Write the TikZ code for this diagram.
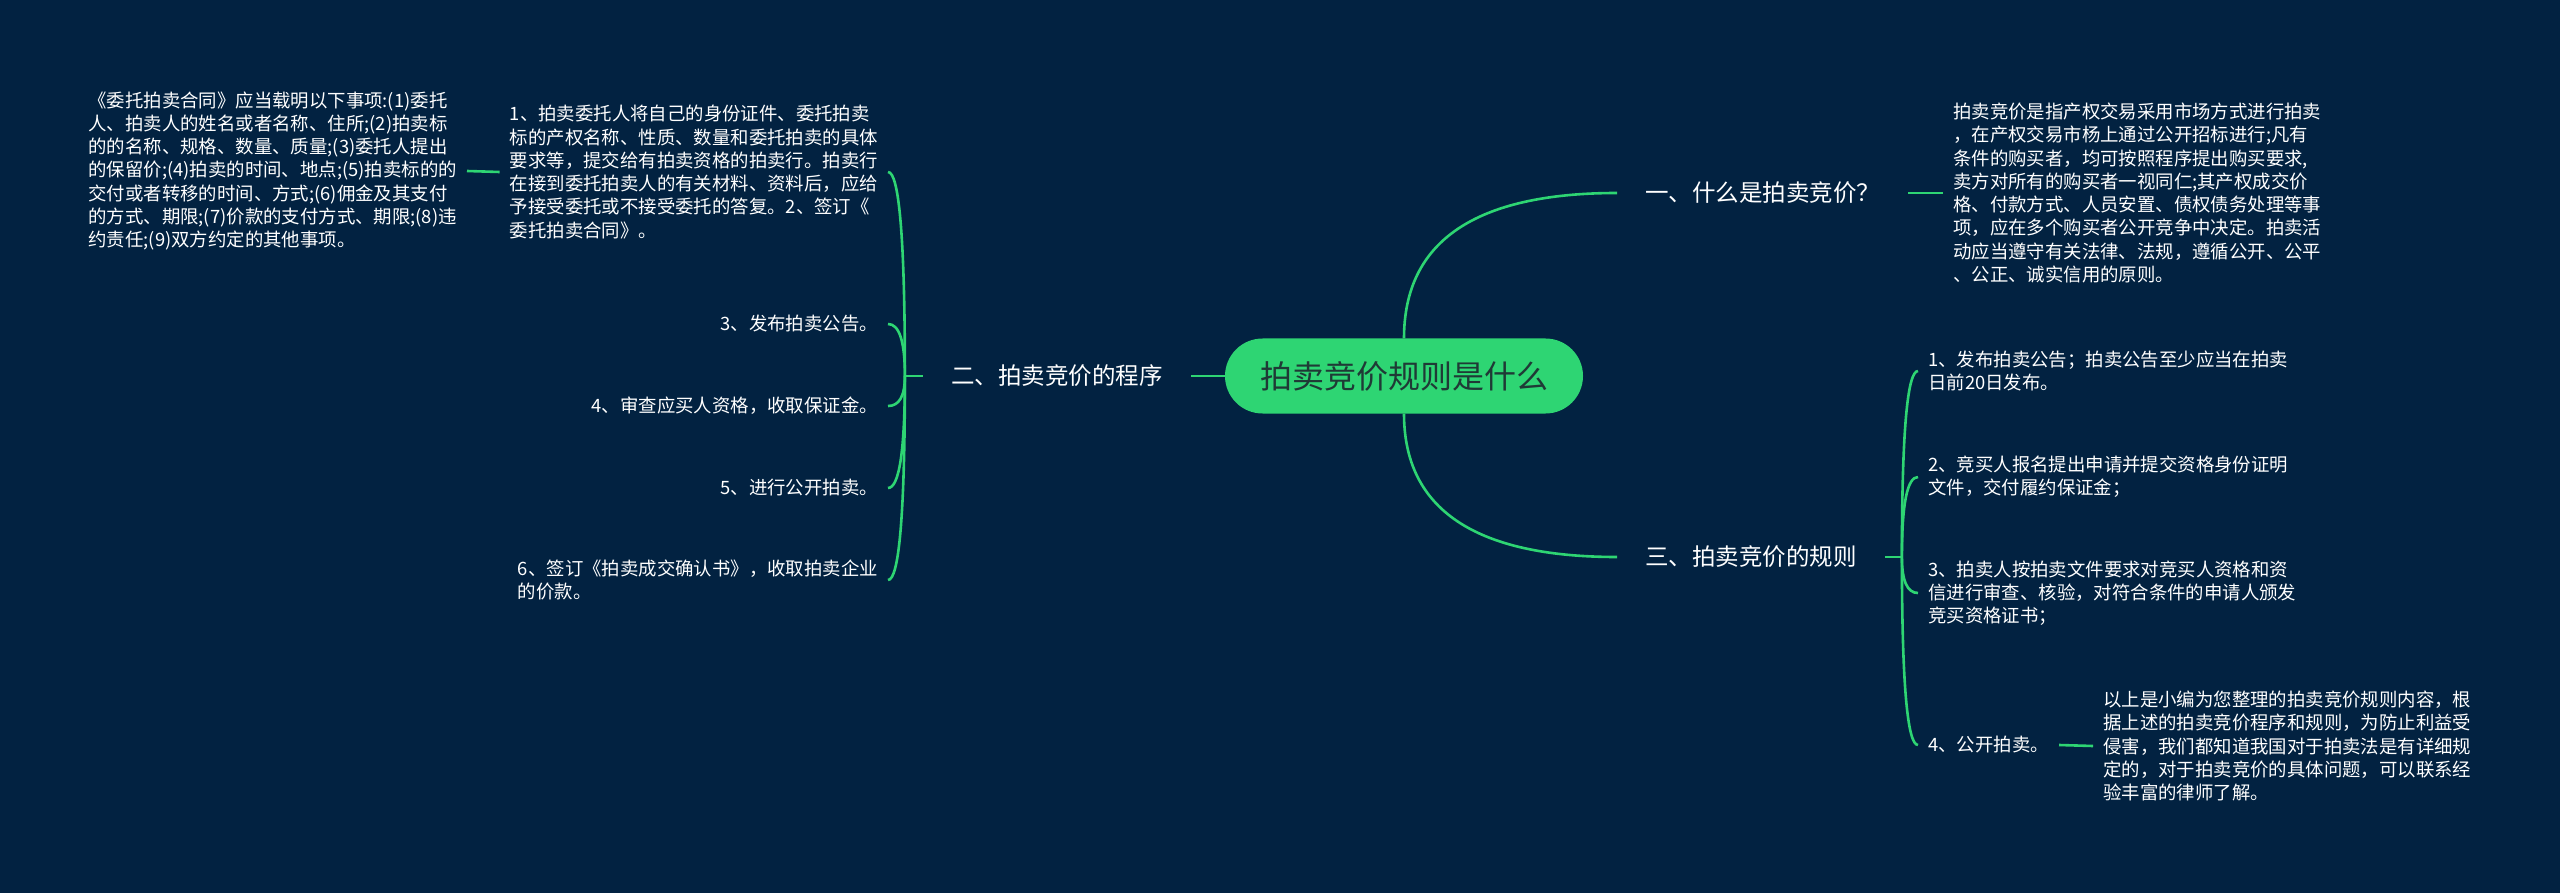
\documentclass[tikz,border=0pt]{standalone}
\usepackage{fontspec}
\newfontfamily\cjk{Noto Sans CJK SC}
\usetikzlibrary{positioning,calc}
\definecolor{bgnavy}{HTML}{022241}
\definecolor{mapgreen}{HTML}{2ED573}
\definecolor{darktext}{HTML}{1F3A36}
\tikzset{
  link/.style={mapgreen,line width=2.6pt},
  brace/.style={to path={.. controls ($(\tikztostart)!0.667!(\tikztostart|-\tikztotarget)$) and ($(\tikztotarget)!0.667!(\tikztostart|-\tikztotarget)$) .. (\tikztotarget)}},
  topic/.style={fill=mapgreen,text=darktext,rounded corners=37.5pt,minimum width=358pt,minimum height=75pt,inner sep=0pt,font=\cjk\fontsize{32}{38}\selectfont},
  branch/.style={text=white,inner xsep=28pt,inner ysep=0pt,font=\cjk\fontsize{23.5}{28}\selectfont},
  leaf/.style={text=white,inner xsep=10pt,inner ysep=0pt,align=left,font=\cjk\fontsize{18.4}{23.3}\selectfont}
}
\begin{document}
\begin{tikzpicture}[x=1pt,y=-1pt]
\fill[bgnavy] (0,0) rectangle (2560,893);
\node[topic] (center) at (1404,376) {拍卖竞价规则是什么};
\node[branch,anchor=west] (yi) at (1617,193) {一、什么是拍卖竞价？};
\node[branch,left=34pt of center] (er) {二、拍卖竞价的程序};
\node[branch,anchor=west] (san) at (1617,557) {三、拍卖竞价的规则};
\node[leaf,anchor=west] (yidef) at (1943,193) {拍卖竞价是指产权交易采用市场方式进行拍卖\\，在产权交易市杨上通过公开招标进行;凡有\\条件的购买者，均可按照程序提出购买要求,\\卖方对所有的购买者一视同仁;其产权成交价\\格、付款方式、人员安置、债权债务处理等事\\项，应在多个购买者公开竞争中决定。拍卖活\\动应当遵守有关法律、法规，遵循公开、公平\\、公正、诚实信用的原则。};
\coordinate (erfork) at ([xshift=-18pt]er.west);
\coordinate (sanfork) at ([xshift=17pt]san.east);
\node[leaf,anchor=east] (p1) at (888,172) {1、拍卖委托人将自己的身份证件、委托拍卖\\标的产权名称、性质、数量和委托拍卖的具体\\要求等，提交给有拍卖资格的拍卖行。拍卖行\\在接到委托拍卖人的有关材料、资料后，应给\\予接受委托或不接受委托的答复。2、签订《\\委托拍卖合同》。};
\node[leaf,anchor=east] (p2) at (888,324) {3、发布拍卖公告。};
\node[leaf,anchor=east] (p3) at (888,406) {4、审查应买人资格，收取保证金。};
\node[leaf,anchor=east] (p4) at (888,488) {5、进行公开拍卖。};
\node[leaf,anchor=east] (p5) at (888,580) {6、签订《拍卖成交确认书》，收取拍卖企业\\的价款。};
\node[leaf,anchor=east] (p1def) at (467,171) {《委托拍卖合同》应当载明以下事项:(1)委托\\人、拍卖人的姓名或者名称、住所;(2)拍卖标\\的的名称、规格、数量、质量;(3)委托人提出\\的保留价;(4)拍卖的时间、地点;(5)拍卖标的的\\交付或者转移的时间、方式;(6)佣金及其支付\\的方式、期限;(7)价款的支付方式、期限;(8)违\\约责任;(9)双方约定的其他事项。};
\node[leaf,anchor=west] (c1) at (1918,371) {1、发布拍卖公告；拍卖公告至少应当在拍卖\\日前20日发布。};
\node[leaf,anchor=west] (c2) at (1918,477) {2、竞买人报名提出申请并提交资格身份证明\\文件，交付履约保证金；};
\node[leaf,anchor=west] (c3) at (1918,593) {3、拍卖人按拍卖文件要求对竞买人资格和资\\信进行审查、核验，对符合条件的申请人颁发\\竞买资格证书；};
\node[leaf,anchor=west] (c4) at (1918,745) {4、公开拍卖。};
\node[leaf,anchor=west] (c4def) at (2093,746) {以上是小编为您整理的拍卖竞价规则内容，根\\据上述的拍卖竞价程序和规则，为防止利益受\\侵害，我们都知道我国对于拍卖法是有详细规\\定的，对于拍卖竞价的具体问题，可以联系经\\验丰富的律师了解。};
\draw[link] (center.north) to[brace] (yi.west);
\draw[link] (center.south) to[brace] (san.west);
\draw[link] (center.west) -- (er.east);
\draw[link] (yi.east) -- (yidef.west);
\draw[link] (er.west) -- (erfork);
\foreach \p in {p1,p2,p3,p4,p5}
  \draw[link] (erfork) to[brace] (\p.east);
\draw[link] (p1.west) -- (p1def.east);
\draw[link] (san.east) -- (sanfork);
\foreach \c in {c1,c2,c3,c4}
  \draw[link] (sanfork) to[brace] (\c.west);
\draw[link] (c4.east) -- (c4def.west);
\end{tikzpicture}
\end{document}
